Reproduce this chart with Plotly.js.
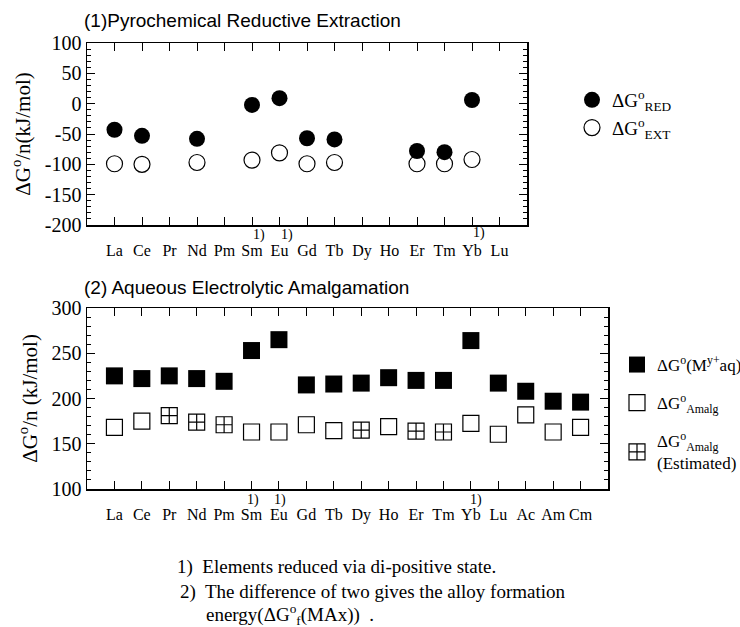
<!DOCTYPE html>
<html><head><meta charset="utf-8">
<script src="https://cdn.plot.ly/plotly-3.0.1.min.js"></script>
<style>html,body{margin:0;padding:0;background:#fff}#chart{width:740px;height:627px}</style>
</head><body><div id="chart"></div>
<script>
// ---- data ----
const lanthanides = ['La','Ce','Pr','Nd','Pm','Sm','Eu','Gd','Tb','Dy','Ho','Er','Tm','Yb','Lu'];
const redValues   = [-43,-53,null,-58,null,-2,9,-57,-59,null,null,-78,-80,6,null];
const extValues   = [-99,-100,null,-97,null,-93,-81,-99,-97,null,null,-99,-99,-92,null];

const aqCategories   = ['La','Ce','Pr','Nd','Pm','Sm','Eu','Gd','Tb','Dy','Ho','Er','Tm','Yb','Lu','Ac','Am','Cm'];
const aqIonValues    = [225,222,225,222,219,253,265,215,216,217,223,220,220,264,217,208,197,196];
const amalgMeasured  = [168,175,null,null,null,163,163,171,164.5,null,169,null,null,172.5,160.5,182,163,168];
const amalgEstimated = [null,null,181,174,171,null,null,null,null,165,null,164,163,null,null,null,null,null];

const yTicksTop    = [-200,-150,-100,-50,0,50,100];
const yTicksBottom = [100,150,200,250,300];
const markedTop    = ['Sm','Eu','Yb'];
const markedBottom = ['Sm','Eu','Yb'];

// ---- styling helpers ----
const W = 740, H = 627;
const px = v => v / W;
const py = v => 1 - v / H;
const serif = 'Liberation Serif, Times New Roman, serif';
const sans = 'Liberation Sans, Arial, sans-serif';

function xAxis(cats, anchor) {
  return {
    type: 'category', categoryorder: 'array', categoryarray: cats,
    range: [-1, cats.length], anchor: anchor,
    showline: true, linecolor: '#000', linewidth: 1.5, mirror: 'ticks',
    ticks: 'inside', ticklen: 8, tickcolor: '#000', tickwidth: 1,
    showgrid: false, zeroline: false, automargin: false,
    tickfont: {family: serif, size: 16, color: '#000'},
    ticklabelstandoff: 10, fixedrange: true
  };
}
function yAxis(range, ticks, anchor, titleText) {
  return {
    range: range, anchor: anchor, tickmode: 'array', tickvals: ticks, ticktext: ticks.map(String),
    showline: true, linecolor: '#000', linewidth: 1.5, mirror: 'ticks',
    ticks: 'inside', ticklen: 8, tickcolor: '#000', tickwidth: 1,
    minor: {ticks: 'inside', ticklen: 4, dtick: 10, tickcolor: '#000', tickwidth: 1, showgrid: false},
    showgrid: false, zeroline: false, automargin: false,
    tickfont: {family: serif, size: 20, color: '#000'},
    title: {text: titleText, font: {family: serif, size: 21, color: '#000'}, standoff: 8},
    fixedrange: true
  };
}

const traces = [
  {x: lanthanides, y: redValues, xaxis: 'x', yaxis: 'y', type: 'scatter', mode: 'markers',
   name: 'ΔG<sup>o</sup><sub>RED</sub>', legend: 'legend', legendgroup: 'a',
   marker: {symbol: 'circle', size: 16, color: '#000'}},
  {x: lanthanides, y: extValues, xaxis: 'x', yaxis: 'y', type: 'scatter', mode: 'markers',
   name: 'ΔG<sup>o</sup><sub>EXT</sub>', legend: 'legend', legendgroup: 'b',
   marker: {symbol: 'circle-open', size: 16, color: '#000', line: {width: 1.2, color: '#000'}}},
  {x: aqCategories, y: aqIonValues, xaxis: 'x2', yaxis: 'y2', type: 'scatter', mode: 'markers',
   name: 'ΔG<sup>o</sup>(M<sup>y+</sup>aq)', legend: 'legend2', legendgroup: 'c',
   marker: {symbol: 'square', size: 17, color: '#000'}},
  {x: aqCategories, y: amalgMeasured, xaxis: 'x2', yaxis: 'y2', type: 'scatter', mode: 'markers',
   name: 'ΔG<sup>o</sup><sub>Amalg</sub>', legend: 'legend2', legendgroup: 'd',
   marker: {symbol: 'square-open', size: 16, color: '#000', line: {width: 1.2, color: '#000'}}},
  {x: aqCategories, y: amalgEstimated, xaxis: 'x2', yaxis: 'y2', type: 'scatter', mode: 'markers',
   name: 'ΔG<sup>o</sup><sub>Amalg</sub><br>(Estimated)', legend: 'legend2', legendgroup: 'e',
   marker: {symbol: 'square-cross-open', size: 16, color: '#000', line: {width: 1.2, color: '#000'}}}
];

const annotations = [];
markedTop.forEach(c => annotations.push({
  x: c, xref: 'x', y: py(c === 'Yb' ? 233 : 235), yref: 'paper', yanchor: 'middle', text: '1)', showarrow: false,
  xshift: 7, font: {family: serif, size: 14, color: '#000'}
}));
markedBottom.forEach(c => annotations.push({
  x: c, xref: 'x2', y: py(500), yref: 'paper', yanchor: 'middle', text: '1)', showarrow: false,
  xshift: c === 'Yb' ? 5 : 1, font: {family: serif, size: 14, color: '#000'}
}));
annotations.push(
  {x: px(82), y: py(20), xref: 'paper', yref: 'paper', xanchor: 'left', yanchor: 'middle', showarrow: false,
   text: '(1)Pyrochemical Reductive Extraction', font: {family: sans, size: 19, color: '#000'}},
  {x: px(82), y: py(287), xref: 'paper', yref: 'paper', xanchor: 'left', yanchor: 'middle', showarrow: false,
   text: '(2) Aqueous Electrolytic Amalgamation', font: {family: sans, size: 19, color: '#000'}},
  {x: px(175), y: py(567), xref: 'paper', yref: 'paper', xanchor: 'left', yanchor: 'middle', showarrow: false,
   text: '1)  Elements reduced via di-positive state.', font: {family: serif, size: 19, color: '#000'}},
  {x: px(178), y: py(592), xref: 'paper', yref: 'paper', xanchor: 'left', yanchor: 'middle', showarrow: false,
   text: '2)  The difference of two gives the alloy formation', font: {family: serif, size: 19, color: '#000'}},
  {x: px(204), y: py(614), xref: 'paper', yref: 'paper', xanchor: 'left', yanchor: 'middle', showarrow: false,
   text: 'energy(ΔG<sup>o</sup><sub>f</sub>(MAx))  .', font: {family: serif, size: 19, color: '#000'}}
);

const layout = {
  width: W, height: H, margin: {l: 0, r: 0, t: 0, b: 0, autoexpand: false},
  paper_bgcolor: '#fff', plot_bgcolor: '#fff', showlegend: true,
  xaxis: Object.assign(xAxis(lanthanides, 'y'), {domain: [px(87), px(527)]}),
  yaxis: Object.assign(yAxis([-200, 100], yTicksTop, 'x', 'ΔG<sup>o</sup>/n(kJ/mol)'), {domain: [py(225), py(43)]}),
  xaxis2: Object.assign(xAxis(aqCategories, 'y2'), {domain: [px(87), px(608)]}),
  yaxis2: Object.assign(yAxis([100, 300], yTicksBottom, 'x2', 'ΔG<sup>o</sup>/n (kJ/mol)'), {domain: [py(489), py(308)]}),
  legend: {x: px(572), y: py(81), xanchor: 'left', yanchor: 'top', bgcolor: 'rgba(0,0,0,0)',
           font: {family: serif, size: 19, color: '#000'}, itemwidth: 30, tracegroupgap: 0},
  legend2: {x: px(617), y: py(347), xanchor: 'left', yanchor: 'top', bgcolor: 'rgba(0,0,0,0)',
           font: {family: serif, size: 17, color: '#000'}, itemwidth: 30, tracegroupgap: 13},
  annotations: annotations
};

Plotly.newPlot('chart', traces, layout, {displayModeBar: false, staticPlot: true});
</script>
</body></html>
